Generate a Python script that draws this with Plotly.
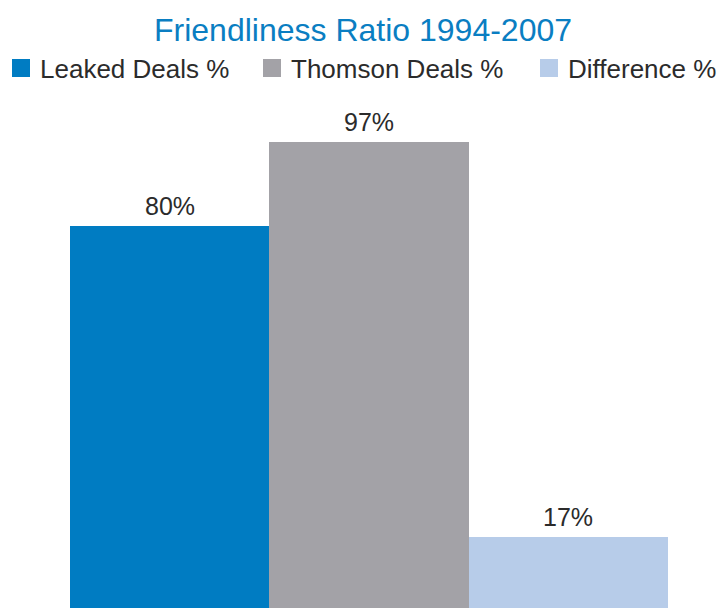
import plotly.graph_objects as go

# Data
categories = ["Leaked Deals %", "Thomson Deals %", "Difference %"]
values = [80, 97, 17]
colors = ["#007CC2", "#A3A2A7", "#B7CCE9"]
title_text = "Friendliness Ratio 1994-2007"

W, H = 726, 608
TOP = 100
FONT = "Liberation Sans, Arial, sans-serif"
TEXT_COLOR = "#2b2b2b"

fig = go.Figure()
annotations = []
for i, (cat, val, col) in enumerate(zip(categories, values, colors)):
    fig.add_trace(go.Bar(
        x=[i], y=[val], name=cat, width=1.0,
        marker=dict(color=col, line=dict(width=0)),
        showlegend=False, hoverinfo="name+y",
    ))
    annotations.append(dict(x=i, y=val, xref="x", yref="y", text=f"{val}%",
                            xanchor="center", yanchor="bottom", yshift=4,
                            showarrow=False,
                            font=dict(size=25, color=TEXT_COLOR, family=FONT)))

# Custom legend (larger square swatches than Plotly's built-in bar legend)
legend_x = [12, 263, 540]  # px positions of swatches
sw = 18
sq_top, sq_bot = 59, 77
plot_h = H - TOP
def py2paper(py):
    return (H - py) / plot_h
shapes = []
for cat, col, lx in zip(categories, colors, legend_x):
    shapes.append(dict(type="rect", xref="paper", yref="paper",
                       x0=lx / W, x1=(lx + sw) / W,
                       y0=py2paper(sq_bot), y1=py2paper(sq_top),
                       fillcolor=col, line=dict(width=0)))
    annotations.append(dict(text=cat, xref="paper", yref="paper",
                            x=(lx + sw + 8) / W, y=py2paper((sq_top + sq_bot) / 2 + 1),
                            xanchor="left", yanchor="middle", showarrow=False,
                            font=dict(size=26, color=TEXT_COLOR, family=FONT)))

fig.update_layout(
    width=W, height=H,
    margin=dict(l=0, r=0, t=TOP, b=0, pad=0),
    paper_bgcolor="white", plot_bgcolor="white",
    barmode="overlay", bargap=0,
    title=dict(text=title_text, x=0.5, xanchor="center",
               y=1 - 30 / H, yanchor="middle", yref="container",
               font=dict(size=32, color="#0A7EC2", family=FONT)),
    xaxis=dict(range=[-0.8512, 2.791], visible=False, fixedrange=True),
    yaxis=dict(range=[2.63, 105.5], visible=False, fixedrange=True),
    shapes=shapes, annotations=annotations,
)

fig.write_html("out.html", config={"displayModeBar": False},
               post_script="document.body.style.margin='0';document.body.style.overflow='hidden';")
